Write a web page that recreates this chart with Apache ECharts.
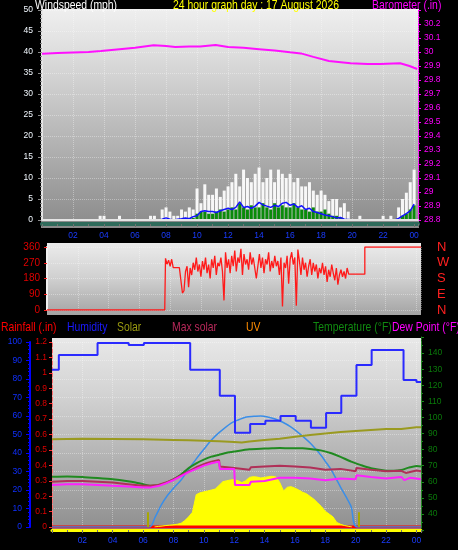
<!DOCTYPE html>
<html><head><meta charset="utf-8">
<script src="https://cdn.jsdelivr.net/npm/echarts@6/dist/echarts.min.js"></script>
<style>html,body{margin:0;padding:0;background:#000;}#c{width:458px;height:550px;}</style>
</head><body><div id="c"></div>
<script>
// ---------------- data ----------------
const hourLabels = {2:'02',4:'04',6:'06',8:'08',10:'10',12:'12',14:'14',16:'16',18:'18',20:'20',22:'22',24:'00'};
const compassLabels = {0:'N',90:'E',180:'S',270:'W',360:'N'};

// wind, 15-minute samples starting 00:00 (mph)
const windStepHours = 0.25;
const windGust = [
 0,0,0,0, 0,0,0,0, 0,0,0,0, 0,0,0,1, 1,0,0,0, 1,0,0,0, 0,0,0,0,
 1,1,0,2.5, 3,2,1,1, 2.5,2,3,2.5, 7.5,4,8.5,6, 6,7.5,5.5,7, 8,9,11,8,
 12,10,9,11, 12.5,9,10,12, 9,12,11,10, 11,9,10,8, 8,9,7,6, 7,6,4.5,5,
 5,3,4,2, 0,0,1,0, 0,0,0,0, 1,0,1,0, 3,5,6.5,9, 12];
const windSpeed = [
 0,0,0,0, 0,0,0,0, 0,0,0,0, 0,0,0,0, 0,0,0,0, 0,0,0,0, 0,0,0,0,
 0,0,0,0, 0,0,0,0, 0,0,0.5,0.5, 1.5,2,2,1.5, 1.5,2,2.5,2, 2.5,3,2.5,4,
 3,2.5,3.5,3, 3,4,3,2.5, 4,3,3.5,3, 3,4,3,2.5, 2.5,2,3,2, 2,2.5,1.5,1,
 1,0.5,0,0, 0,0,0,0, 0,0,0,0, 0,0,0,0, 0,1,1.5,2.5, 3.5];
const windAvg = [
 0,0,0,0, 0,0,0,0, 0,0,0,0, 0,0,0,0, 0,0,0,0, 0,0,0,0, 0,0,0,0,
 0,0,0,0.2, 0.5,0.2,0,0.2, 0.3,0.5,0.3,0.8, 1,2,2.2,2, 2,1.8,2.2,2.5, 2.8,2.5,3,4.3,
 3,3.2,2.8,3.3, 4.2,3.6,3.3,3, 3.5,3.2,4,4.2, 3.5,3.8,3,3.4, 2.5,2.8,2,1.8, 1.5,1.2,1,0.8,
 0.5,0.6,0.2,0.1, 0,0,0,0, 0,0,0,0, 0,0,0,0, 0.4,1,1.5,2.2, 3.8];

// barometer (inHg)
const baroTimes  = [0,1,2,3,3.8,5,6,7.2,8,8.6,9.5,10.2,11.2,12,13,14,15,16,16.7,17.5,18.5,19.9,21,21.8,23.1,23.7,24.2];
const baroValues = [29.988,29.992,29.996,30.0,30.007,30.02,30.03,30.048,30.042,30.036,30.04,30.04,30.05,30.036,30.03,30.02,30.01,29.998,29.99,29.965,29.936,29.92,29.915,29.914,29.92,29.9,29.879];

// wind direction (degrees)
const dirTimesBefore = [0, 7.65];
const dirValuesBefore = [0, 0];
const dirSampleStart = 7.7, dirSampleStep = 0.1;
const dirValues = [
 295,262,285,250,290, 242,242,242,242,242,242, 97,110,220,
 250,130,240,200,270,230,300,220,260,
 190,280,230,300,210,260,180,290,240,310,
 200,270,250,300,220,55,330,240,290,210,
 310,250,340,220,300,270,350,200,320,260,
 290,230,330,260,300,240,180,250,320,240,
 300,210,290,260,330,220,280,240,310,250,
 280,200,300,20,270,240,310,150,290,330,
 260,300,25,345,280,200,300,230,270,190,
 250,290,200,270,220,260,180,240,210,270,
 200,250,160,230,190,260,210,170,240,145,
 200,230,190,220,180,240];
const dirTimesAfter = [19.6, 20.65, 20.65, 24.3];
const dirValuesAfter = [205, 205, 360, 360];

// humidity (%), hourly steps
const humTimes  = [0,0.45,3,5.05,6.05,9.1,11.05,12.05,13.05,14.05,15.05,16.05,17.05,18.05,19.05,20.05,21.05,23.15,24.0,24.3];
const humValues = [85,93,99.5,98.4,99.5,85,71,51,55.7,57.5,60,57.5,53.7,61.6,71,87.6,95.7,79.5,78.4,78.4];

// temperature (°F)
const tempTimes  = [0,1,2,3,4,5,5.5,6,6.5,7,7.5,8,8.5,9,9.5,10,10.5,11,11.5,12,13,14,14.5,15,15.7,16.5,17,17.7,18.4,19,19.7,20.3,21,22,22.5,23,23.5,24,24.3];
const tempValues = [63.1,63.3,63,62.3,61.5,60.3,59.5,58.5,57.5,57.8,59.3,61.5,64.5,68.5,71.5,73.8,75.6,76.8,78,78.8,80.2,80.6,80.8,81,80.8,80.8,80.4,79.5,77.7,75.5,72.5,70.5,68.4,66.9,66.8,67.3,68.8,69.8,69.5];

// dew point (°F)
const dewTimes  = [0,1,2,3,4,5,6,6.5,7,7.5,8,8.5,9,9.5,10,10.5,11,11.05,12,12.05,13,13.1,14,14.1,15,16,17,18,18.05,19,19.05,20,20.05,21,22,23,23.2,23.6,24.3];
const dewValues = [58,58.5,58.5,58,57.5,57,56.5,56.5,57.3,59,61,63.5,66,68,70,71.5,72.5,68,68,58,58,60,60.5,61,62.5,62.5,62,61,62,62,61,61.5,64,63,62,63,61,62.5,61.5];

// second pink series (°F)
const maxTimes  = [0,1,2,3,4,5,6,6.5,7,7.5,8,8.5,9,9.5,10,10.5,11,11.05,12,13,13.1,14,15,16,17,18,18.05,19,19.05,20,20.05,21,22,23,23.3,24,24.3];
const maxValues = [60,60.5,60.5,60,59.5,58.5,57.5,57.5,58,59.5,61.5,64,66.5,69,71,72.5,73.5,69.5,68.6,67.5,69,69.5,70,69.5,68.8,67.5,68.5,68,67,66.5,68.5,67.5,66.5,66.8,65.5,67,66.5];

// olive series
const oliveTimes  = [0,2,4,6,8,9,10,11,12,12.5,13,14,15,16,17,18,19,20,21,22,23,24,24.3];
const oliveValues = [86.5,86.7,86.6,86.4,86,85.8,85.5,85.2,84.7,84.4,85,86,86.8,88,89,90,91,91.6,92.2,92.8,92.8,93.9,93.9];

// solar radiation (W/m2), 15-minute samples from 06:45
const solarStart = 6.75, solarStep = 0.25;
const solarValues = [0,3,5,8,10,12,15,20,35,55,80,175,185,190,195,200,205,225,245,250,254,256,250,240,250,268,272,270,265,268,272,274,270,240,195,215,218,210,200,188,180,165,150,130,110,85,70,55,25,15,8,4,0];

// theoretical max solar (W/m2)
const maxSolarTimes  = [0,6.4,6.8,7.2,7.6,8,8.5,9,9.5,10,10.5,11,11.8,12.3,12.8,13.3,13.75,14.2,14.7,15.2,15.7,16.3,17,17.7,18,18.4,18.7,19,19.35,19.7,20.1,24.3];
const maxSolarValues = [0,0,55,119,170,210,254,312,368,420,470,510,562,580,595,598,600,595,584,566,542,505,454,389,355,308,262,216,165,110,0,0];

// sunrise / sunset markers
const sunTimes = [6.3, 20.2];

// rainfall (in)
const rainTimes = [0, 24.3];
const rainValues = [0, 0];

// ---------------- build ----------------
const zip = (t, v) => t.map((x, i) => [x, v[i]]);
const windData = arr => arr.map((v, i) => [i * windStepHours, v]);
const dirData = zip(dirTimesBefore, dirValuesBefore)
  .concat(dirValues.map((v, i) => [+(dirSampleStart + i * dirSampleStep).toFixed(2), v]))
  .concat(zip(dirTimesAfter, dirValuesAfter));
const solarData = solarValues.map((v, i) => [solarStart + i * solarStep, v]);

const FONT = "'Liberation Sans', Arial, sans-serif";
const grad = (stops) => ({type:'linear', x:0, y:0, x2:0, y2:1, colorStops: stops.map(s => ({offset:s[0], color:s[1]}))});
const dotted = 'rgba(255,255,255,0.35)';
const hourFmt = v => hourLabels[v] || '';
const head = (text, x, y, color) => ({type:'text', x:x, y:y, scaleX:0.8, z:10,
  style:{text:text, x:0, y:0, fill:color, font:'13px ' + FONT, verticalAlign:'middle', textVerticalAlign:'middle'}});

const chart = echarts.init(document.getElementById('c'), null, {renderer:'canvas'});
chart.setOption({
  animation: false,
  backgroundColor: '#000',
  graphic: [
    {type:'rect', z:-100, shape:{x:41, y:9, width:378, height:219}, style:{fill: grad([[0,'#efefef'],[0.15,'#e2e2e2'],[0.45,'#c4c4c4'],[1,'#8a8a8a']])}},
    {type:'rect', z:-100, shape:{x:47, y:243, width:374, height:72}, style:{fill: grad([[0,'#ececec'],[0.5,'#cfcfcf'],[1,'#a4a4a4']])}},
    {type:'rect', z:-100, shape:{x:52, y:338, width:369, height:194}, style:{fill: grad([[0,'#e8e8e8'],[0.3,'#d2d2d2'],[1,'#8e8e8e']])}},
    head('Windspeed (mph)', 35, 5, '#ffffff'),
    head('24 hour graph day : 17 August 2026', 173, 5, '#ffff00'),
    head('Barometer (.in)', 372, 5, '#ff00ff'),
    head('Rainfall (.in)', 1, 327, '#ff0000'),
    head('Humidity', 67, 327, '#1a1aff'),
    head('Solar', 117, 327, '#999910'),
    head('Max solar', 172, 327, '#b8285a'),
    head('UV', 246, 327, '#ff8c00'),
    head('Temperature (°F)', 313, 327, '#108a10'),
    head('Dew Point (°F)', 392, 327, '#ff00ff')
  ],
  grid: [
    {left:42, right:40, top:10, height:210},
    {left:47, right:37, top:247, height:63},
    {left:52, right:37, top:342, height:185},
    {left:52, right:37, top:337, height:193}
  ],
  xAxis: [
    {gridIndex:0, type:'value', position:'bottom', min:0, max:24.25, interval:2, z:10, zlevel:1,
     axisLine:{show:true, onZero:false, lineStyle:{color:'#e4e4e4', width:2}}, axisTick:{show:false}, axisLabel:{show:false}, splitLine:{show:false}},
    {gridIndex:0, type:'value', position:'bottom', min:0, max:24.25, interval:2, offset:4,
     axisLine:{show:true, onZero:false, lineStyle:{color:'#2f6b5b', width:4}},
     axisTick:{show:true, length:3, lineStyle:{color:'#707070'}},
     minorTick:{show:true, splitNumber:2, length:2, lineStyle:{color:'#707070'}},
     axisLabel:{formatter:hourFmt, color:'#1a3cff', fontSize:8.5, fontFamily:FONT, margin:7, showMinLabel:false, showMaxLabel:false},
     splitLine:{show:true, lineStyle:{color:dotted, type:'dotted'}}},
    {gridIndex:1, type:'value', position:'bottom', min:0, max:24.3, interval:2,
     axisLine:{show:false}, axisTick:{show:false}, axisLabel:{show:false},
     splitLine:{show:true, lineStyle:{color:dotted, type:'dotted'}}},
    {gridIndex:2, type:'value', position:'bottom', min:0, max:24.3, interval:2, offset:3,
     axisLine:{show:true, onZero:false, lineStyle:{color:'#ffff00', width:3}},
     axisTick:{show:true, length:3, lineStyle:{color:'#707070'}},
     minorTick:{show:true, splitNumber:2, length:2, lineStyle:{color:'#707070'}},
     axisLabel:{formatter:hourFmt, color:'#1a3cff', fontSize:8.5, fontFamily:FONT, margin:6, showMinLabel:false, showMaxLabel:false},
     splitLine:{show:true, lineStyle:{color:dotted, type:'dotted'}}},
    {gridIndex:3, type:'value', position:'bottom', min:0, max:24.3, show:false}
  ],
  yAxis: [
    {gridIndex:0, type:'value', position:'left', min:0, max:50, interval:5,
     axisLine:{show:true, onZero:false, lineStyle:{color:'#e6e6e6', width:2}},
     axisTick:{show:true, length:4, lineStyle:{color:'#8a8a8a'}},
     minorTick:{show:true, splitNumber:5, length:2, lineStyle:{color:'#8a8a8a'}},
     axisLabel:{color:'#f2f8ff', fontSize:8.5, fontFamily:FONT, margin:9},
     splitLine:{show:true, lineStyle:{color:dotted, type:'dotted'}}},
    {gridIndex:0, type:'value', position:'right', min:28.8, max:30.3, interval:0.1,
     axisLine:{show:true, onZero:false, lineStyle:{color:'#ff00ff', type:'dotted'}},
     axisTick:{show:true, length:3, lineStyle:{color:'#ff00ff'}},
     minorTick:{show:true, splitNumber:2, length:2, lineStyle:{color:'#ff00ff'}},
     axisLabel:{color:'#ff00ff', fontSize:8.5, fontFamily:FONT, margin:6, showMaxLabel:false},
     splitLine:{show:false}},
    {gridIndex:1, type:'value', position:'left', min:0, max:360, interval:90,
     axisLine:{show:true, onZero:false, lineStyle:{color:'#f0f0f0', width:2}},
     axisTick:{show:true, length:3, lineStyle:{color:'#ff2020'}},
     axisLabel:{color:'#e00000', fontSize:10, fontFamily:FONT, margin:7},
     splitLine:{show:true, lineStyle:{color:dotted, type:'dotted'}}},
    {gridIndex:1, type:'value', position:'right', min:0, max:360, interval:90,
     axisLine:{show:false, onZero:false}, axisTick:{show:false},
     axisLabel:{formatter:v => compassLabels[v] || '', color:'#ff2020', fontSize:13, fontFamily:FONT, margin:16},
     splitLine:{show:false}},
    {gridIndex:2, type:'value', position:'left', offset:0, min:0, max:1.2, interval:0.1,
     axisLine:{show:true, onZero:false, lineStyle:{color:'#ff7070', type:'dashed'}},
     axisTick:{show:true, length:3, lineStyle:{color:'#ff3030'}},
     axisLabel:{color:'#e00000', fontSize:8.5, fontFamily:FONT, margin:5},
     splitLine:{show:false}},
    {gridIndex:2, type:'value', position:'left', offset:22, min:0, max:100, interval:10,
     axisLine:{show:true, onZero:false, lineStyle:{color:'#0000ff', width:2}},
     axisTick:{show:true, length:4, lineStyle:{color:'#0000ff'}},
     minorTick:{show:true, splitNumber:5, length:2, lineStyle:{color:'#0000ff'}},
     axisLabel:{color:'#1030ff', fontSize:8.5, fontFamily:FONT, margin:8},
     splitLine:{show:true, lineStyle:{color:dotted, type:'dotted'}}},
    {gridIndex:2, type:'value', min:0, max:1000, show:false},
    {gridIndex:3, type:'value', position:'right', min:30, max:150, interval:10,
     axisLine:{show:true, onZero:false, lineStyle:{color:'#1a8a1a', type:'dotted'}},
     axisTick:{show:true, length:3, lineStyle:{color:'#1a8a1a'}},
     minorTick:{show:true, splitNumber:2, length:2, lineStyle:{color:'#1a8a1a'}},
     axisLabel:{color:'#0a7a0a', fontSize:8.5, fontFamily:FONT, margin:7, showMinLabel:false, showMaxLabel:false},
     splitLine:{show:false}}
  ],
  series: [
    {name:'Gust', type:'bar', xAxisIndex:1, yAxisIndex:0, data:windData(windGust), barWidth:3, barGap:'-100%',
     itemStyle:{color:'rgba(255,255,255,0.92)'}},
    {name:'Speed', type:'bar', xAxisIndex:1, yAxisIndex:0, data:windData(windSpeed), barWidth:3, barGap:'-100%',
     itemStyle:{color:'#0a8a0a'}},
    {name:'Average', type:'line', xAxisIndex:1, yAxisIndex:0, data:windData(windAvg), showSymbol:false,
     lineStyle:{color:'#1010ff', width:1.5}},
    {name:'Barometer', type:'line', xAxisIndex:1, yAxisIndex:1, data:zip(baroTimes, baroValues), showSymbol:false,
     lineStyle:{color:'#ff10ff', width:2}},
    {name:'Direction', type:'line', xAxisIndex:2, yAxisIndex:2, data:dirData, showSymbol:false,
     lineStyle:{color:'#ff1a1a', width:1.3}},
    {name:'Rainfall', type:'line', xAxisIndex:3, yAxisIndex:4, data:zip(rainTimes, rainValues), showSymbol:false,
     lineStyle:{color:'#ff0000', width:3}, z:1},
    {name:'Solar', type:'line', xAxisIndex:3, yAxisIndex:6, data:solarData, showSymbol:false,
     lineStyle:{color:'#ffff00', width:1}, areaStyle:{color:'#ffff00', opacity:1}, z:1,
     markLine:{silent:true, symbol:'none', label:{show:false}, lineStyle:{color:'#a8a800', width:2, type:'solid'},
       data: sunTimes.map(t => [{coord:[t, 0]}, {coord:[t, 80]}])}},
    {name:'Max solar theory', type:'line', xAxisIndex:3, yAxisIndex:6, data:zip(maxSolarTimes, maxSolarValues), showSymbol:false,
     smooth:0.3, lineStyle:{color:'#3a8ee8', width:1.5}},
    {name:'Humidity', type:'line', step:'end', xAxisIndex:3, yAxisIndex:5, data:zip(humTimes, humValues), showSymbol:false,
     lineStyle:{color:'#2a2aff', width:2}},
    {name:'Olive', type:'line', xAxisIndex:4, yAxisIndex:7, data:zip(oliveTimes, oliveValues), showSymbol:false,
     lineStyle:{color:'#9a9a20', width:2}},
    {name:'Temperature', type:'line', xAxisIndex:4, yAxisIndex:7, data:zip(tempTimes, tempValues), showSymbol:false,
     smooth:0.2, lineStyle:{color:'#208a20', width:2}},
    {name:'Max solar', type:'line', xAxisIndex:4, yAxisIndex:7, data:zip(maxTimes, maxValues), showSymbol:false,
     lineStyle:{color:'#b03058', width:2}},
    {name:'Dew Point', type:'line', xAxisIndex:4, yAxisIndex:7, data:zip(dewTimes, dewValues), showSymbol:false,
     lineStyle:{color:'#ff20ff', width:2}}
  ]
});
</script>
</body></html>
